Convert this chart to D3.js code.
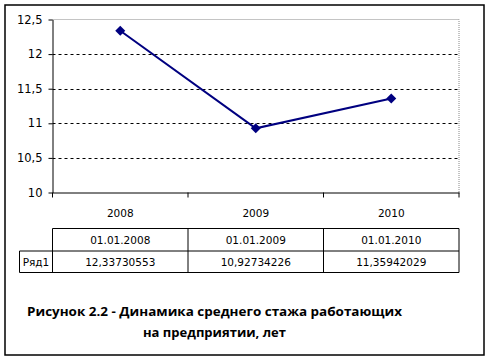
<!DOCTYPE html>
<html>
<head>
<meta charset="utf-8">
<script src="https://cdn.jsdelivr.net/npm/d3@7"></script>
<style>
  html,body{margin:0;padding:0;background:#fff;}
  svg{display:block;font-family:"DejaVu Sans",sans-serif;}
</style>
</head>
<body>
<svg id="chart" width="491" height="361"></svg>
<script>
// ---- data ----
const years = ['2008','2009','2010'];
const dates = ['01.01.2008','01.01.2009','01.01.2010'];
const seriesName = 'Ряд1';
const values = [12.33730553, 10.92734226, 11.35942029];
const yTicks = [10, 10.5, 11, 11.5, 12, 12.5];
const captionLines = ['Рисунок 2.2 - Динамика среднего стажа работающих', 'на предприятии, лет'];

(function(){
  const svg = d3.select('#chart');
  const L = 52.5, R = 459, T = 19.5, B = 192.5;
  const FONT = '"DejaVu Sans",sans-serif';
  const fmt = v => String(v).replace('.', ',');

  // outer frame
  svg.append('rect').attr('x',5).attr('y',5).attr('width',479).attr('height',350)
    .attr('fill','#fff').attr('stroke','#000').attr('stroke-width',1.5);

  const x = d3.scaleBand().domain(years).range([L,R]);
  const y = d3.scaleLinear().domain([10,12.5]).range([B,T]);

  // plot border (gray dotted top/right)
  svg.append('path').attr('d',`M${L},${T}H${R}V${B}`)
    .attr('fill','none').attr('stroke','#888').attr('stroke-dasharray','1,1');

  // grid lines
  svg.append('g').selectAll('line').data(yTicks.filter(t=>t>10 && t<12.5)).join('line')
    .attr('x1',L).attr('x2',R).attr('y1',d=>Math.round(y(d))+0.5).attr('y2',d=>Math.round(y(d))+0.5)
    .attr('stroke','#000').attr('stroke-dasharray','3,3');

  // y axis
  const ya = svg.append('g').attr('transform',`translate(${L},0)`)
    .call(d3.axisLeft(y).tickValues(yTicks).tickFormat(fmt).tickSize(4).tickSizeOuter(0));
  ya.attr('font-family',FONT);
  ya.select('.domain').attr('stroke','#000');
  ya.selectAll('text').attr('font-size',11.5).attr('fill','#000').attr('x',-10);

  // x axis
  const xa = svg.append('g').attr('transform',`translate(0,${B})`)
    .call(d3.axisBottom(x).tickSize(0).tickSizeOuter(0));
  xa.attr('font-family',FONT);
  xa.select('.domain').attr('stroke','#000');
  xa.selectAll('text').attr('font-size',10.5).attr('fill','#000').attr('dy',0).attr('y',24);
  // category boundary ticks
  const bounds = years.map(d=>x(d)).concat([R]);
  svg.append('g').selectAll('line').data(bounds).join('line')
    .attr('x1',d=>d).attr('x2',d=>d).attr('y1',B).attr('y2',B+5).attr('stroke','#000');

  // data table
  const r1 = 228.5, r2 = 251, r3 = 272.5;
  const tg = svg.append('g').attr('fill','none').attr('stroke','#000');
  tg.append('path').attr('d',`M${L},${r2}V${r1}H${R}V${r3}H19.5V${r2}H${R}`);
  bounds.slice(1,3).forEach(b=>tg.append('line').attr('x1',b).attr('x2',b).attr('y1',r1).attr('y2',r3));
  tg.append('line').attr('x1',L).attr('x2',L).attr('y1',r2).attr('y2',r3);
  const tt = svg.append('g').attr('font-family',FONT).attr('font-size',10.5);
  tt.append('g').selectAll('text').data(dates).join('text')
    .attr('x',(d,i)=>x(years[i])+x.bandwidth()/2).attr('y',(r1+r2)/2+4)
    .attr('text-anchor','middle').text(d=>d);
  tt.append('g').selectAll('text').data(values).join('text')
    .attr('x',(d,i)=>x(years[i])+x.bandwidth()/2).attr('y',(r2+r3)/2+4)
    .attr('text-anchor','middle').text(d=>fmt(d));
  tt.append('text').attr('x',(19.5+L)/2).attr('y',(r2+r3)/2+4)
    .attr('text-anchor','middle').text(seriesName);

  // series line + markers
  const pts = values.map((v,i)=>[x(years[i])+x.bandwidth()/2, y(v)]);
  svg.append('path').attr('d',d3.line()(pts)).attr('fill','none')
    .attr('stroke','#000080').attr('stroke-width',2);
  svg.append('g').selectAll('path').data(pts).join('path')
    .attr('transform',d=>`translate(${d[0]},${d[1]})`)
    .attr('d','M0,-5L5,0L0,5L-5,0Z').attr('fill','#000080');

  // caption
  const cap = svg.append('g').attr('font-family','"Open Sans","Noto Sans",sans-serif')
    .attr('font-weight','bold').attr('font-size',13);
  cap.append('text').attr('x',27).attr('y',316).attr('textLength',375)
    .attr('lengthAdjust','spacingAndGlyphs').text(captionLines[0]);
  cap.append('text').attr('x',143).attr('y',337).attr('textLength',143)
    .attr('lengthAdjust','spacingAndGlyphs').text(captionLines[1]);
})();
</script>
</body>
</html>
